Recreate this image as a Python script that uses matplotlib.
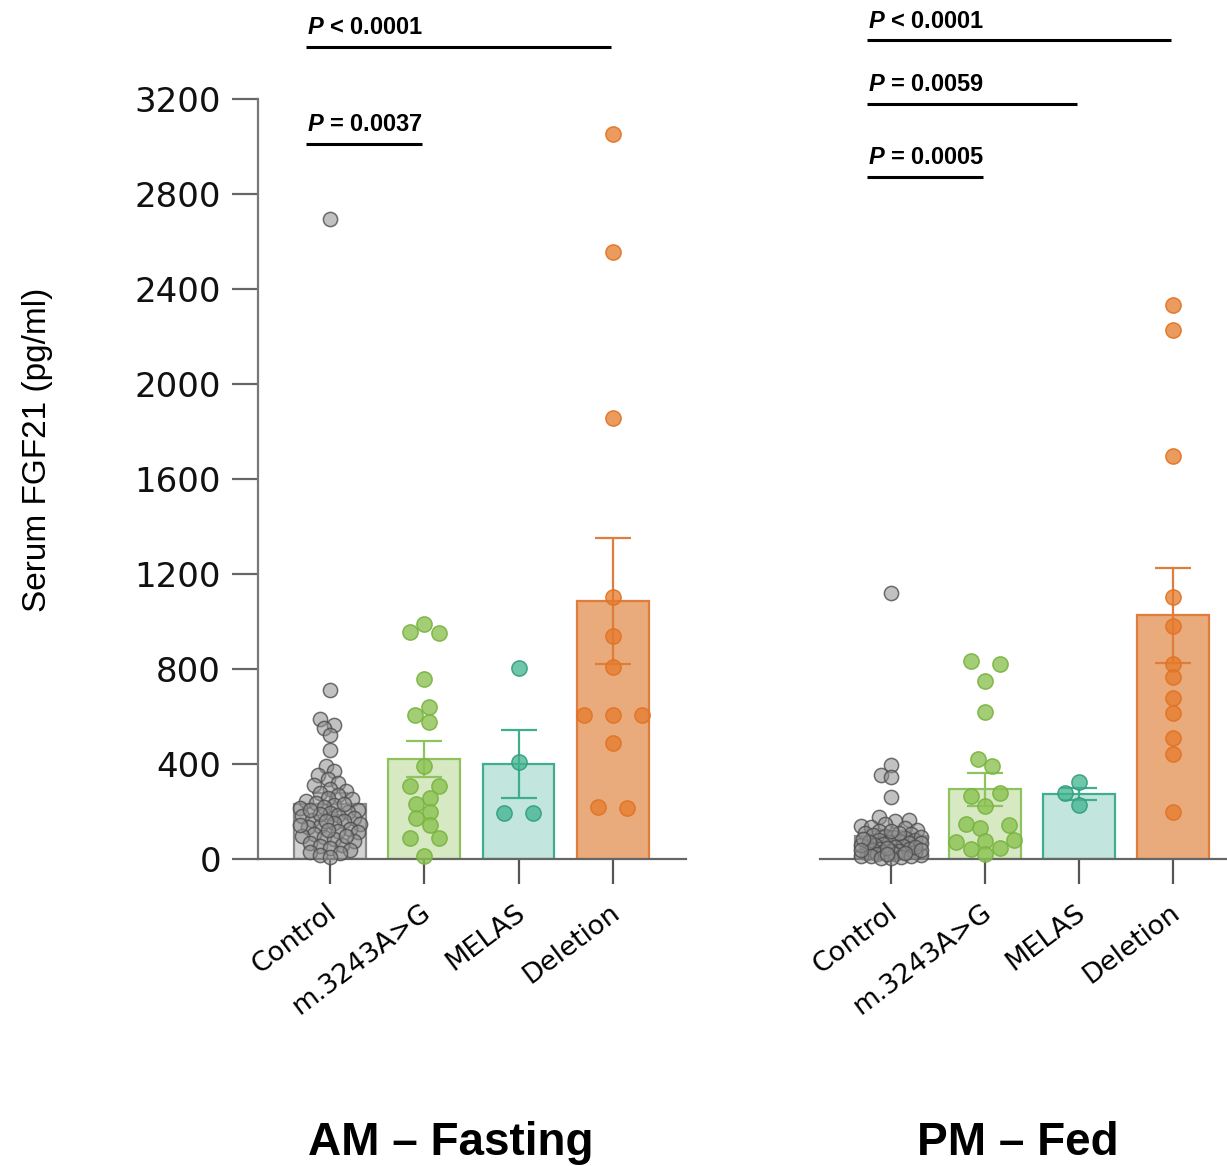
import matplotlib
matplotlib.use("Agg")
import matplotlib.pyplot as plt
import matplotlib.transforms as mtransforms
import numpy as np

plt.rcParams["mathtext.fontset"] = "custom"
plt.rcParams["mathtext.it"] = "Liberation Sans:italic:bold"
plt.rcParams["mathtext.rm"] = "Liberation Sans:bold"

# Data (serum FGF21, pg/ml)
groups = ["Control", "m.3243A>G", "MELAS", "Deletion"]

ctrl_am = [2695, 711, 588, 566, 553, 521, 459, 392, 371, 355, 338, 322, 311, 296,
           287, 279, 268, 257, 251, 243, 236, 229, 221, 214, 206, 199, 193, 186,
           180, 172, 166, 159, 151, 146, 139, 133, 127, 118, 112, 104, 97, 91, 83,
           76, 69, 61, 55, 47, 40, 31, 24, 16, 8, 188, 162, 143, 121, 205, 230, 95]
mut_am = [956, 952, 989, 758, 640, 606, 577, 392, 307, 307, 257, 232, 198, 173,
          143, 88, 88, 13]
melas_am = [805, 408, 195, 195]
del_am = [3053, 2556, 1857, 1104, 940, 810, 606, 606, 606, 490, 214, 220]

ctrl_pm = [1121, 396, 355, 346, 261, 178, 165, 158, 149, 141, 136, 129, 122, 117,
           111, 106, 101, 96, 91, 87, 82, 78, 74, 70, 66, 62, 58, 55, 51, 48, 44,
           41, 38, 35, 32, 29, 26, 23, 20, 17, 14, 11, 8, 5, 3, 60, 72, 85, 94,
           108, 120, 45, 37, 28, 19, 12, 66, 52, 40, 25]
mut_pm = [820, 833, 751, 620, 393, 419, 276, 266, 224, 146, 129, 143, 41, 77, 45,
          70, 80, 21]
melas_pm = [324, 226, 278]
del_pm = [2332, 2229, 1698, 1103, 980, 823, 766, 676, 616, 510, 444, 197]

mean_am = [232, 421, 400, 1086]
sem_am = [46, 76, 143, 265]
mean_pm = [98, 293, 274, 1027]
sem_pm = [22, 68, 26, 200]

p_am = [(0, 3, "<", "0.0001", 3419), (0, 1, "=", "0.0037", 3011)]
p_pm = [(0, 3, "<", "0.0001", 3448), (0, 2, "=", "0.0059", 3179), (0, 1, "=", "0.0005", 2872)]

face = ["#d4d4d4", "#d6e9c2", "#c2e6dd", "#eaab7c"]
edge = ["#8a8a8a", "#8fc35f", "#3fae8e", "#e07c3c"]
dot_face = [(0.56, 0.56, 0.56, 0.55), (0.55, 0.76, 0.32, 0.8),
            (0.25, 0.70, 0.56, 0.75), (0.90, 0.48, 0.16, 0.75)]
dot_edge = [(0.30, 0.30, 0.30, 0.8), (0.47, 0.70, 0.25, 0.9),
            (0.20, 0.62, 0.48, 0.9), (0.88, 0.45, 0.15, 0.9)]


def swarm(vals, ppx, ppy, step, rx, ry, nmax=4, centre=False):
    # beeswarm: nearest-to-centre free slot, else the least crowded slot
    vals = np.asarray(vals, float)
    offs = np.zeros(len(vals))
    cands = sorted((k * step for k in range(-nmax, nmax + 1)), key=lambda c: (abs(c), c))
    placed = []
    order = np.argsort(vals)
    for i in order:
        y = vals[i] * ppy
        best, best_d = 0.0, -1
        for c in cands:
            d = min([np.hypot((c - px) / rx, (y - py) / ry) for px, py in placed] or [9])
            if d >= 1:
                best = c
                break
            if d > best_d + 1e-9:
                best, best_d = c, d
        placed.append((best, y))
        offs[i] = best
    if centre:
        # centre clumps of close values around the category
        row = [order[0]]
        for i in list(order[1:]) + [None]:
            if i is not None and (vals[i] - vals[row[-1]]) * ppy < 10:
                row.append(i)
                continue
            if len(row) > 1:
                offs[row] -= offs[row].mean()
            if i is not None:
                row = [i]
    return offs / ppx


W, H = 1227, 1166
fig = plt.figure(figsize=(W / 100, H / 100), dpi=100)
y0, y1 = 859, 99
ax1 = fig.add_axes([258 / W, (H - y0) / H, (686 - 258) / W, (y0 - y1) / H])
ax2 = fig.add_axes([820 / W, (H - y0) / H, (1227 - 820) / W, (y0 - y1) / H])

x = np.arange(len(groups))
ax1.set_xlim(-0.763, 3.774)
ax2.set_xlim(-0.755, 3.574)
for ax in (ax1, ax2):
    ax.set_ylim(0, 3200)

panels = [(ax1, [ctrl_am, mut_am, melas_am, del_am], mean_am, sem_am, p_am),
          (ax2, [ctrl_pm, mut_pm, melas_pm, del_pm], mean_pm, sem_pm, p_pm)]

for ax, pts, means, sems, pvals in panels:
    ppx = ax.bbox.width / (ax.get_xlim()[1] - ax.get_xlim()[0])
    ppy = ax.bbox.height / 3200
    ax.bar(x, means, width=0.76, color=face, edgecolor=edge, linewidth=1.6, zorder=1)
    for i in x:
        ax.errorbar(x[i], means[i], yerr=sems[i], color=edge[i], elinewidth=1.6,
                    capsize=13, capthick=1.6, zorder=2)
        if i == 0:
            off = swarm(pts[i], ppx, ppy, 2, 9, 9, nmax=15)
            s = 105
        else:
            off = swarm(pts[i], ppx, ppy, 14.5, 15, 13, centre=True)
            s = 120
        ax.scatter(x[i] + off, pts[i], s=s, facecolor=dot_face[i], edgecolor=dot_edge[i],
                   linewidth=1.1, zorder=3, clip_on=False)
    for a, b, sign, val, yl in pvals:
        ax.plot([a - 0.25, b - 0.02], [yl, yl], color="black", lw=2.2, clip_on=False,
                solid_capstyle="butt")
        ax.annotate(r"$P$ " + sign + " " + val, xy=(a - 0.24, yl), xytext=(0, 9),
                    textcoords="offset points", ha="left", va="baseline",
                    fontsize=17, fontweight="bold", family="Liberation Sans",
                    annotation_clip=False)

    for sp in ("top", "right"):
        ax.spines[sp].set_visible(False)
    ax.spines["bottom"].set_color("#666666")
    ax.spines["bottom"].set_linewidth(1.6)
    ax.set_xticks(x)
    ax.set_xticklabels(groups, rotation=37, ha="right", va="top",
                       rotation_mode="anchor", fontsize=19.5, family="DejaVu Sans")
    ax.tick_params(axis="x", length=18, width=1.6, color="#555555", pad=11)
    offset = mtransforms.ScaledTranslation(-4 / 100, 0, fig.dpi_scale_trans)
    for lab in ax.get_xticklabels():
        lab.set_transform(lab.get_transform() + offset)

ax1.spines["left"].set_color("#777777")
ax1.spines["left"].set_linewidth(1.6)
ax1.set_yticks(np.arange(0, 3201, 400))
ax1.tick_params(axis="y", length=18.7, width=1.6, color="#666666", pad=8,
                labelsize=24.5)
for lab in ax1.get_yticklabels():
    lab.set_family("DejaVu Sans")
    lab.set_color("#111111")

ax2.spines["left"].set_visible(False)
ax2.set_yticks([])

fig.text(38 / W, (H - 450) / H, "Serum FGF21 (pg/ml)", rotation=90, ha="center",
         va="center", fontsize=24, family="Liberation Sans")
fig.text(451 / W, 11 / H, "AM – Fasting", ha="center", va="baseline", fontsize=33,
         fontweight="bold", family="Liberation Sans")
fig.text(1018 / W, 11 / H, "PM – Fed", ha="center", va="baseline", fontsize=33,
         fontweight="bold", family="Liberation Sans")

fig.savefig("out.png", dpi=100)
